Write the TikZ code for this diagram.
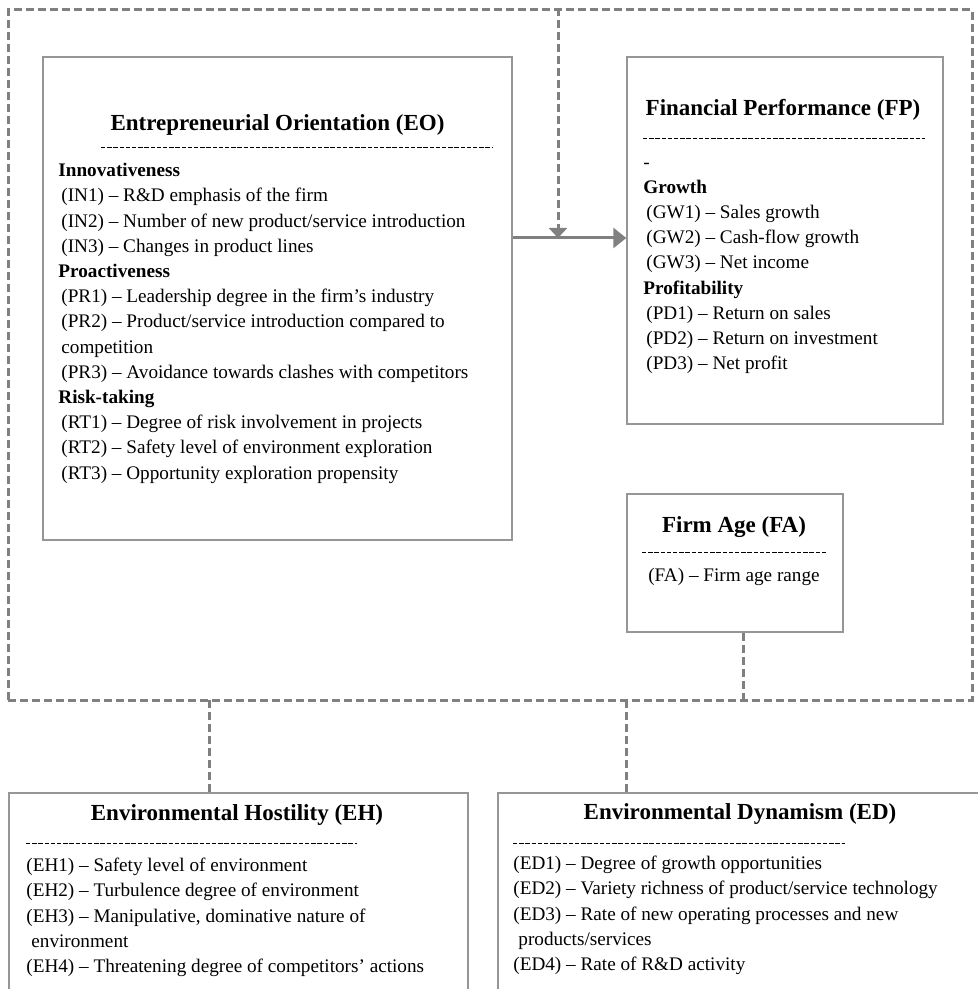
\documentclass[tikz,border=0pt]{standalone}
\usepackage{fontspec}
\setmainfont{Liberation Serif}
\usepackage{tikz}
\usetikzlibrary{arrows.meta, positioning, fit}
\definecolor{linegray}{RGB}{128,128,128}
\definecolor{boxgray}{RGB}{150,150,150}

\begin{document}
\begin{tikzpicture}[x=0.5pt, y=-0.5pt,
    box/.style={draw=boxgray, line width=0.7pt, inner sep=0pt},
    ttl/.style={font=\bfseries\fontsize{11.5}{14}\selectfont, inner sep=0pt},
    body/.style={font=\fontsize{9.6}{12.6}\selectfont, align=left, inner sep=0pt, anchor=north west},
    sep/.style={line width=0.45pt, dash pattern=on 2.2pt off 0.9pt},
    link/.style={draw=linegray, line width=1.5pt, dash pattern=on 4pt off 2pt},
    flow/.style={draw=linegray, line width=1.5pt, -{Triangle[length=6.5pt, width=10pt]}}]
  \path[use as bounding box, clip] (0,0) rectangle (978,989);

  % moderating frame
  \node[link, inner sep=0pt, fit={(8,10) (972,700)}] (frame) {};

  % entrepreneurial orientation
  \node[box, fit={(43,57) (512,540)}] (eo) {};
  \node[ttl] (eotitle) at (277.5,125) {Entrepreneurial Orientation (EO)};
  \draw[sep] (101,147) -- (492,147);
  \node[body] (eobody) at (58,158.7) {\strut\textbf{Innovativeness}\\
    \hspace*{1.5pt}(IN1) – R\&D emphasis of the firm\\
    \hspace*{1.5pt}(IN2) – Number of new product/service introduction\\
    \hspace*{1.5pt}(IN3) – Changes in product lines\\
    \textbf{Proactiveness}\\
    \hspace*{1.5pt}(PR1) – Leadership degree in the firm’s industry\\
    \hspace*{1.5pt}(PR2) – Product/service introduction compared to\\
    \hspace*{1.5pt}competition\\
    \hspace*{1.5pt}(PR3) – Avoidance towards clashes with competitors\\
    \textbf{Risk-taking}\\
    \hspace*{1.5pt}(RT1) – Degree of risk involvement in projects\\
    \hspace*{1.5pt}(RT2) – Safety level of environment exploration\\
    \hspace*{1.5pt}(RT3) – Opportunity exploration propensity};

  % financial performance
  \node[box, fit={(627,57) (943,424)}] (fp) {};
  \node[ttl] (fptitle) at (783,110) {Financial Performance (FP)};
  \draw[sep] (643,138) -- (925,138);
  \node[body] (fpbody) at (643,150) {\strut-\\
    \textbf{Growth}\\
    \hspace*{1.5pt}(GW1) – Sales growth\\
    \hspace*{1.5pt}(GW2) – Cash-flow growth\\
    \hspace*{1.5pt}(GW3) – Net income\\
    \textbf{Profitability}\\
    \hspace*{1.5pt}(PD1) – Return on sales\\
    \hspace*{1.5pt}(PD2) – Return on investment\\
    \hspace*{1.5pt}(PD3) – Net profit};

  % firm age
  \node[box, fit={(627,494) (843,632)}] (fa) {};
  \node[ttl] (fatitle) at (734,527) {Firm Age (FA)};
  \draw[sep] (642,552) -- (826,552);
  \node[font=\fontsize{9.6}{12.6}\selectfont, inner sep=0pt] (fabody) at (734,577) {(FA) – Firm age range};

  % environmental hostility
  \node[box, fit={(9,793) (468,1010)}] (eh) {};
  \node[ttl] (ehtitle) at (237,815) {Environmental Hostility (EH)};
  \draw[sep] (26,843) -- (357,843);
  \node[body] (ehbody) at (26,853.7) {\strut(EH1) – Safety level of environment\\
    (EH2) – Turbulence degree of environment\\
    (EH3) – Manipulative, dominative nature of\\
    \hspace*{2.5pt}environment\\
    (EH4) – Threatening degree of competitors’ actions};

  % environmental dynamism
  \node[box, fit={(498,793) (985,1010)}] (ed) {};
  \node[ttl] (edtitle) at (740,814) {Environmental Dynamism (ED)};
  \draw[sep] (513,843) -- (845,843);
  \node[body] (edbody) at (513,851.7) {\strut(ED1) – Degree of growth opportunities\\
    (ED2) – Variety richness of product/service technology\\
    (ED3) – Rate of new operating processes and new\\
    \hspace*{2.5pt}products/services\\
    (ED4) – Rate of R\&D activity};

  % connectors
  \coordinate (join) at (558,238);
  \coordinate (fatap) at (743,700);
  \coordinate (ehtap) at (209,700);
  \coordinate (edtap) at (626,700);
  \draw[flow] (eo.east |- join) -- (fp.west |- join);
  \draw[link, -{Triangle[length=5pt, width=9pt]}] (frame.north -| join) -- (join);
  \draw[link] (fa.south -| fatap) -- (fatap);
  \draw[link] (ehtap) -- (ehtap |- eh.north);
  \draw[link] (edtap) -- (edtap |- ed.north);
\end{tikzpicture}
\end{document}
